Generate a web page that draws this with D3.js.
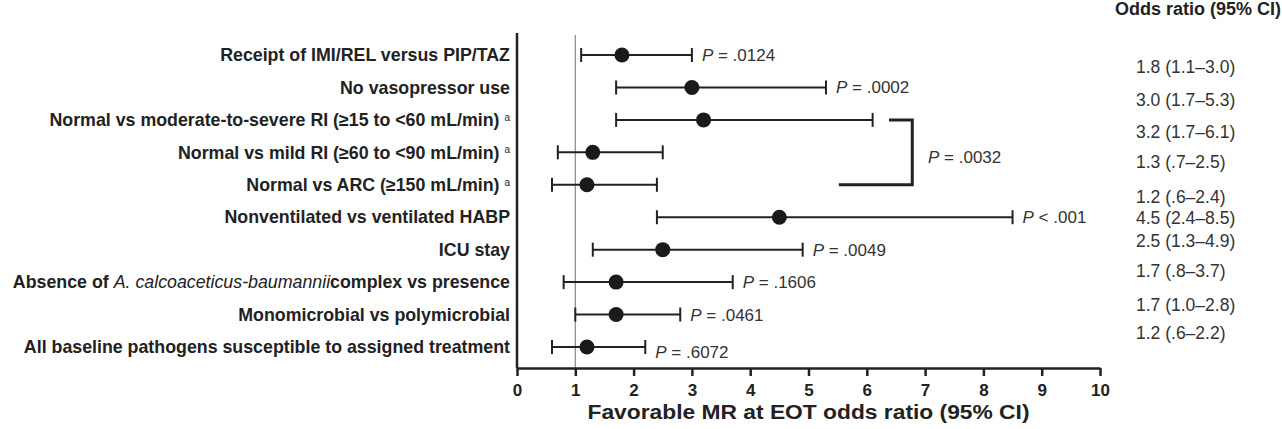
<!DOCTYPE html>
<html>
<head>
<meta charset="utf-8">
<script src="https://cdn.jsdelivr.net/npm/d3@7"></script>
<style>
  body { margin: 0; background: #fff; }
  svg { display: block; font-family: "Liberation Sans", Arial, sans-serif; }
</style>
</head>
<body>
<div id="chart"></div>
<script>
// Row labels (top to bottom)
const labels = [
  "Receipt of IMI/REL versus PIP/TAZ",
  "No vasopressor use",
  "Normal vs moderate-to-severe RI (≥15 to <60 mL/min)",
  "Normal vs mild RI (≥60 to <90 mL/min)",
  "Normal vs ARC (≥150 mL/min)",
  "Nonventilated vs ventilated HABP",
  "ICU stay",
  "Absence of |A. calcoaceticus-baumannii|complex vs presence",
  "Monomicrobial vs polymicrobial",
  "All baseline pathogens susceptible to assigned treatment"
];
const footnoted = [false, false, true, true, true, false, false, false, false, false];

const oddsRatio = [1.8, 3.0, 3.2, 1.3, 1.2, 4.5, 2.5, 1.7, 1.7, 1.2];
const ciLow     = [1.1, 1.7, 1.7, 0.7, 0.6, 2.4, 1.3, 0.8, 1.0, 0.6];
const ciHigh    = [3.0, 5.3, 6.1, 2.5, 2.4, 8.5, 4.9, 3.7, 2.8, 2.2];
const pValues   = ["= .0124", "= .0002", null, null, null, "< .001", "= .0049", "= .1606", "= .0461", "= .6072"];
const orText = [
  "1.8 (1.1–3.0)", "3.0 (1.7–5.3)", "3.2 (1.7–6.1)", "1.3 (.7–2.5)", "1.2 (.6–2.4)",
  "4.5 (2.4–8.5)", "2.5 (1.3–4.9)", "1.7 (.8–3.7)", "1.7 (1.0–2.8)", "1.2 (.6–2.2)"
];
const groupP = "= .0032"; // renal function rows (2–4)
const xTicks = [0, 1, 2, 3, 4, 5, 6, 7, 8, 9, 10];

const width = 1282, height = 429;
const margin = { top: 34, left: 517, right: 182, axisY: 368 };

// small layout nudges for the right-hand text column, as in the source figure
const orTextDy = [12, 12, 12, 10, 12, 1, -9, -11, -10, -14];
const pDy = [0, 0, 0, 0, 0, 0, 0, 0, 0, 5];

const svg = d3.select("#chart").append("svg")
  .attr("width", width).attr("height", height);

const x = d3.scaleLinear().domain([0, 10]).range([margin.left, width - margin.right]);
const y = d3.scalePoint().domain(d3.range(labels.length)).range([55, 347]);

const ink = "#222";

// reference line at OR = 1
svg.append("line")
  .attr("x1", x(1)).attr("x2", x(1))
  .attr("y1", margin.top + 1).attr("y2", margin.axisY)
  .attr("stroke", "#888").attr("stroke-width", 1.2);

// left vertical axis line
svg.append("line")
  .attr("x1", margin.left).attr("x2", margin.left)
  .attr("y1", margin.top - 1).attr("y2", margin.axisY)
  .attr("stroke", ink).attr("stroke-width", 2.5);

// x axis
const xAxis = svg.append("g")
  .attr("transform", `translate(0, ${margin.axisY})`)
  .call(d3.axisBottom(x).tickValues(xTicks).tickFormat(d3.format("d")).tickSize(8).tickSizeOuter(0));
xAxis.select(".domain").attr("stroke", ink).attr("stroke-width", 2.5);
xAxis.selectAll(".tick line").attr("stroke", ink).attr("stroke-width", 2.5);
xAxis.selectAll(".tick text")
  .attr("y", 16)
  .attr("dy", "0.71em")
  .attr("fill", ink)
  .style("font-size", "17px")
  .style("font-weight", "bold")
  .style("font-family", "'Liberation Sans', Arial, sans-serif");

// axis title, stretched to the width it has in the source figure
svg.append("text")
  .attr("x", (x(0) + x(10)) / 2)
  .attr("y", 419)
  .attr("text-anchor", "middle")
  .attr("textLength", 442)
  .attr("lengthAdjust", "spacingAndGlyphs")
  .attr("fill", ink)
  .style("font-size", "19.5px")
  .style("font-weight", "bold")
  .text("Favorable MR at EOT odds ratio (95% CI)");

// row labels
labels.forEach((lab, i) => {
  const t = svg.append("text")
    .attr("x", 510)
    .attr("y", y(i))
    .attr("dy", "0.35em")
    .attr("text-anchor", "end")
    .attr("fill", ink)
    .style("font-size", "17.8px")
    .style("font-weight", "bold");
  lab.split("|").forEach((part, k) => {
    const sp = t.append("tspan").text(part);
    if (k === 1) sp.style("font-style", "italic").style("font-weight", "normal");
  });
  if (footnoted[i]) {
    t.append("tspan").text(" ");
    t.append("tspan").text("a")
      .attr("dy", "-0.55em")
      .style("font-size", "10px")
      .style("font-weight", "normal");
  }
});

// CI lines
const rows = svg.append("g").selectAll("g")
  .data(d3.range(labels.length))
  .join("g");

rows.append("line")
  .attr("x1", (i) => x(ciLow[i])).attr("x2", (i) => x(ciHigh[i]))
  .attr("y1", (i) => y(i)).attr("y2", (i) => y(i))
  .attr("stroke", ink).attr("stroke-width", 2);

rows.append("line")
  .attr("x1", (i) => x(ciLow[i])).attr("x2", (i) => x(ciLow[i]))
  .attr("y1", (i) => y(i) - 7).attr("y2", (i) => y(i) + 7)
  .attr("stroke", ink).attr("stroke-width", 2);

rows.append("line")
  .attr("x1", (i) => x(ciHigh[i])).attr("x2", (i) => x(ciHigh[i]))
  .attr("y1", (i) => y(i) - 7).attr("y2", (i) => y(i) + 7)
  .attr("stroke", ink).attr("stroke-width", 2);

rows.append("circle")
  .attr("cx", (i) => x(oddsRatio[i]))
  .attr("cy", (i) => y(i))
  .attr("r", 7.5)
  .attr("fill", "#1a1a1a");

// P values
rows.filter((i) => pValues[i] !== null)
  .append("text")
  .attr("x", (i) => x(ciHigh[i]) + 10)
  .attr("y", (i) => y(i) + pDy[i])
  .attr("dy", "0.35em")
  .attr("fill", "#333")
  .style("font-size", "17px")
  .each(function (i) {
    const t = d3.select(this);
    t.append("tspan").style("font-style", "italic").text("P");
    t.append("tspan").text(" " + pValues[i]);
  });

// bracket for the renal function group
const bTop = y(2), bBot = y(4);
svg.append("path")
  .attr("d", `M${x(6.38)},${bTop} H${x(6.78)} V${bBot} H${x(5.52)}`)
  .attr("fill", "none")
  .attr("stroke", ink)
  .attr("stroke-width", 3);

const gp = svg.append("text")
  .attr("x", x(7.05))
  .attr("y", (bTop + bBot) / 2 + 5)
  .attr("dy", "0.35em")
  .attr("fill", "#333")
  .style("font-size", "17px");
gp.append("tspan").style("font-style", "italic").text("P");
gp.append("tspan").text(" " + groupP);

// right column
svg.append("text")
  .attr("x", 1281)
  .attr("y", 9)
  .attr("dy", "0.35em")
  .attr("text-anchor", "end")
  .attr("fill", ink)
  .style("font-size", "18px")
  .style("font-weight", "bold")
  .text("Odds ratio (95% CI)");

orText.forEach((s, i) => {
  svg.append("text")
    .attr("x", 1136)
    .attr("y", y(i) + orTextDy[i])
    .attr("dy", "0.35em")
    .attr("fill", "#333")
    .style("font-size", "17.5px")
    .text(s);
});
</script>
</body>
</html>
